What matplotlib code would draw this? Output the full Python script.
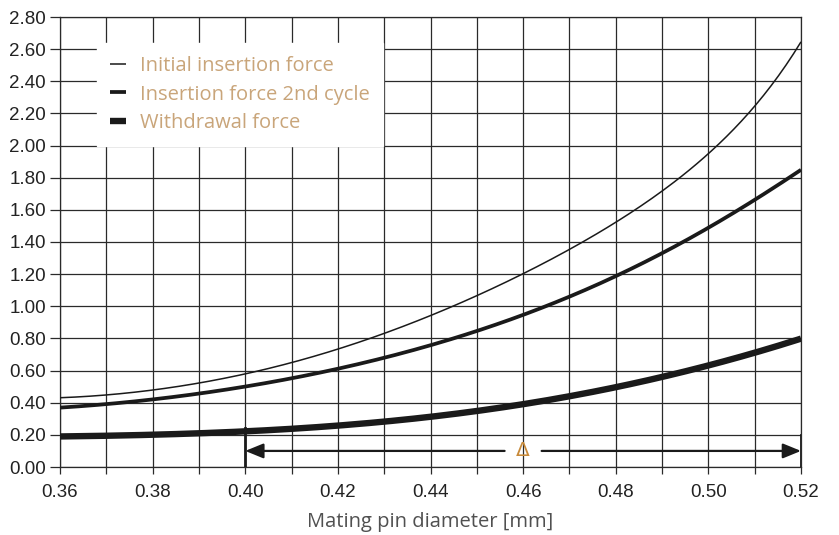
import matplotlib
matplotlib.use("Agg")
import matplotlib.pyplot as plt
import numpy as np

# pin diameter [mm]
diameter = [0.36, 0.37, 0.38, 0.39, 0.40, 0.41, 0.42, 0.43, 0.44,
            0.45, 0.46, 0.47, 0.48, 0.49, 0.50, 0.51, 0.52]
initial_insertion = [0.43, 0.45, 0.48, 0.52, 0.58, 0.65, 0.73, 0.83, 0.95,
                     1.07, 1.20, 1.35, 1.52, 1.71, 1.96, 2.25, 2.64]
insertion_2nd = [0.37, 0.39, 0.42, 0.46, 0.50, 0.55, 0.61, 0.68, 0.76,
                 0.85, 0.94, 1.06, 1.19, 1.33, 1.49, 1.66, 1.85]
withdrawal = [0.19, 0.195, 0.20, 0.21, 0.22, 0.24, 0.26, 0.28, 0.31,
              0.35, 0.39, 0.44, 0.50, 0.56, 0.63, 0.71, 0.80]

labels = ["Initial insertion force", "Insertion force 2nd cycle", "Withdrawal force"]
x_ticks = [0.36, 0.38, 0.40, 0.42, 0.44, 0.46, 0.48, 0.50, 0.52]
y_ticks = [round(0.2 * i, 2) for i in range(15)]
delta_range = [0.40, 0.52]

tan = "#c9a57a"
grid_col = "#2a2a2a"

fig = plt.figure(figsize=(8.39, 5.35), dpi=100)
ax = fig.add_axes([60 / 839, 68 / 535, 741 / 839, 450 / 535])

# smooth the curves a little for drawing (fit in log space)
xs = np.linspace(diameter[0], diameter[-1], 200)
for vals, lw, lab in zip([initial_insertion, insertion_2nd, withdrawal],
                         [1.1, 2.7, 4.6], labels):
    coef = np.polyfit(diameter, np.log(vals), 5)
    ax.plot(xs, np.exp(np.polyval(coef, xs)), color="#1a1a1a", lw=lw, label=lab,
            solid_capstyle="butt", zorder=3)

ax.set_xlim(0.36, 0.52)
ax.set_ylim(0, 2.8)
ax.set_xticks(x_ticks)
ax.set_xticklabels([f"{v:.2f}" for v in x_ticks])
ax.set_xticks(np.arange(0.36, 0.5201, 0.01), minor=True)
ax.set_yticks(y_ticks)
ax.set_yticklabels([f"{v:.2f}" for v in y_ticks])

ax.grid(True, which="both", color=grid_col, lw=0.9, zorder=1)
ax.tick_params(axis="both", which="both", direction="out", color=grid_col,
               width=0.9, labelsize=13.5, labelcolor="#222222")
ax.tick_params(axis="x", which="both", length=5, pad=7)
ax.tick_params(axis="y", length=7, pad=3)
for t in ax.get_xticklabels() + ax.get_yticklabels():
    t.set_fontfamily("Liberation Sans")
for s in ax.spines.values():
    s.set_color(grid_col)
    s.set_linewidth(0.9)

ax.set_xlabel("Mating pin diameter [mm]", fontsize=14.5, color="#505050",
              family="Open Sans", labelpad=8)

# delta range marker
ax.plot([delta_range[0]] * 2, [0, 0.24], color="#1a1a1a", lw=2, zorder=4)
ax.plot([delta_range[1]] * 2, [0, 0.20], color="#1a1a1a", lw=2, zorder=4)
mid = (delta_range[0] + delta_range[1]) / 2
gap = 0.004
arr = dict(arrowstyle="-|>,head_length=1.1,head_width=0.45", color="#1a1a1a",
           lw=1.6, shrinkA=0, shrinkB=0)
ax.annotate("", xy=(delta_range[0], 0.1), xytext=(mid - gap, 0.1),
            arrowprops=arr, zorder=4)
ax.annotate("", xy=(delta_range[1], 0.1), xytext=(mid + gap, 0.1),
            arrowprops=arr, zorder=4)
ax.text(mid, 0.1, "Δ", color="#c88a3a", fontsize=14.5, ha="center",
        va="center", family="DejaVu Sans", zorder=5)

leg = ax.legend(loc="upper left", bbox_to_anchor=(37 / 741, 1 - 26 / 450),
                frameon=True, fancybox=False, framealpha=1, edgecolor="white",
                facecolor="white", handlelength=0.8, handletextpad=0.7,
                labelspacing=0.42, borderpad=0.65, borderaxespad=0,
                prop={"family": "Open Sans", "size": 14.5})
leg.set_zorder(6)
for t in leg.get_texts():
    t.set_color(tan)

fig.savefig("out.png", dpi=100)
